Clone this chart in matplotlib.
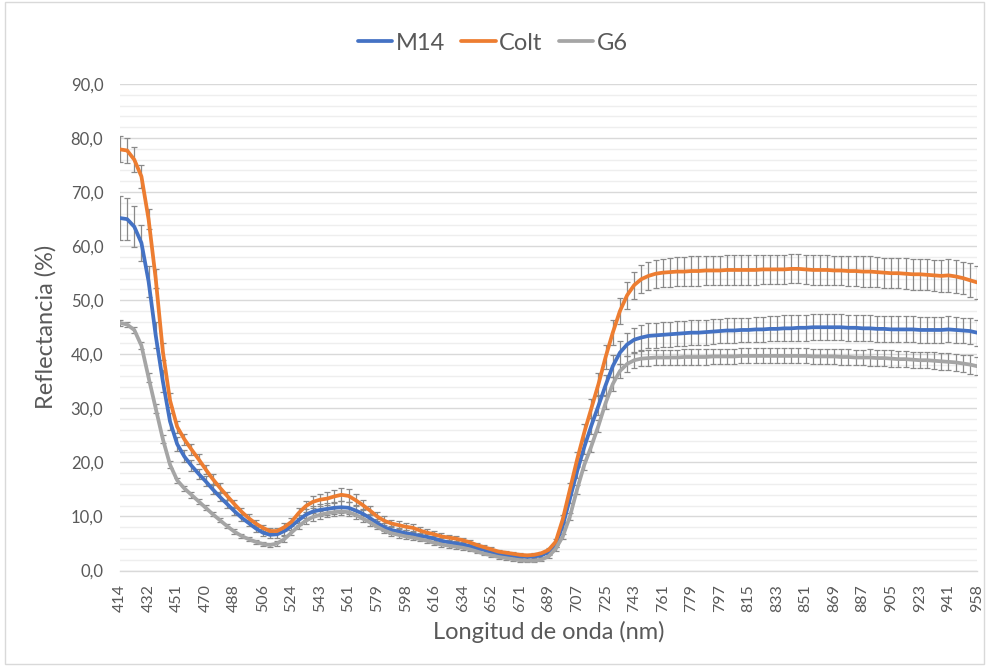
import matplotlib
matplotlib.use("Agg")
import matplotlib.pyplot as plt
from matplotlib.ticker import MultipleLocator, FuncFormatter
from matplotlib.patches import Rectangle

plt.rcParams["font.family"] = ["Lato", "DejaVu Sans"]

# wavelength labels, one every 4 samples (121 samples from 414 to 958 nm)
tick_labels = ["414", "432", "451", "470", "488", "506", "524", "543", "561", "579",
               "598", "616", "634", "652", "671", "689", "707", "725", "743", "761",
               "779", "797", "815", "833", "851", "869", "887", "905", "923", "941", "958"]
label_step = 4

series_names = ["M14", "Colt", "G6"]
series_colors = ["#4472C4", "#ED7D31", "#A5A5A5"]

m14 = [65.2, 65.0, 63.6, 60.6, 53.5, 43.5, 35.0, 27.6, 23.4, 21.1,
       19.4, 17.9, 16.5, 15.0, 13.6, 12.3, 11.0, 9.8, 8.8, 7.8,
       7.0, 6.6, 6.7, 7.3, 8.2, 9.3, 10.3, 10.9, 11.2, 11.4,
       11.6, 11.7, 11.6, 11.1, 10.5, 9.7, 8.8, 8.0, 7.5, 7.2,
       6.9, 6.7, 6.4, 6.2, 5.9, 5.5, 5.2, 5.0, 4.8, 4.5,
       4.1, 3.8, 3.4, 3.1, 2.9, 2.7, 2.6, 2.5, 2.6, 2.8,
       3.4, 4.8, 8.3, 13.3, 18.3, 22.8, 26.8, 30.5, 34.3, 37.8,
       40.3, 41.8, 42.7, 43.1, 43.4, 43.5, 43.6, 43.7, 43.8, 43.9,
       44.0, 44.0, 44.1, 44.2, 44.3, 44.4, 44.4, 44.5, 44.5, 44.6,
       44.6, 44.7, 44.7, 44.8, 44.8, 44.9, 44.9, 45.0, 45.0, 45.0,
       45.0, 45.0, 44.9, 44.9, 44.8, 44.8, 44.7, 44.7, 44.6, 44.6,
       44.6, 44.6, 44.5, 44.5, 44.5, 44.5, 44.6, 44.5, 44.4, 44.3,
       44.0]

colt = [77.9, 77.7, 76.0, 72.9, 65.0, 54.0, 40.5, 31.5, 26.6, 24.3,
        22.4, 20.6, 18.7, 16.9, 15.3, 13.8, 12.3, 10.9, 9.7, 8.7,
        7.9, 7.3, 7.3, 8.0, 9.0, 10.6, 11.9, 12.7, 13.1, 13.3,
        13.7, 14.0, 13.8, 13.0, 12.1, 11.1, 10.0, 9.2, 8.7, 8.4,
        8.1, 7.9, 7.4, 7.0, 6.7, 6.3, 6.1, 5.9, 5.6, 5.2,
        4.7, 4.3, 3.9, 3.5, 3.3, 3.1, 2.9, 2.8, 2.9, 3.2,
        3.8, 5.3, 9.5, 15.0, 20.5, 25.5, 30.0, 34.5, 39.5, 44.0,
        48.0, 50.9, 52.8, 53.9, 54.5, 54.9, 55.1, 55.2, 55.3, 55.3,
        55.4, 55.4, 55.5, 55.5, 55.5, 55.6, 55.6, 55.6, 55.6, 55.6,
        55.7, 55.7, 55.7, 55.7, 55.8, 55.8, 55.7, 55.6, 55.6, 55.6,
        55.5, 55.5, 55.4, 55.4, 55.3, 55.3, 55.2, 55.1, 55.0, 55.0,
        54.9, 54.8, 54.8, 54.7, 54.6, 54.5, 54.6, 54.4, 54.1, 53.7,
        53.3]

g6 = [45.8, 45.5, 44.5, 41.6, 35.7, 30.0, 24.3, 19.6, 16.7, 15.2,
      14.0, 12.8, 11.6, 10.4, 9.3, 8.2, 7.2, 6.4, 5.8, 5.3,
      4.9, 4.7, 5.0, 5.8, 7.0, 8.2, 9.2, 9.9, 10.3, 10.6,
      10.8, 10.9, 10.8, 10.3, 9.6, 8.9, 8.1, 7.4, 6.9, 6.6,
      6.3, 6.1, 5.8, 5.5, 5.1, 4.8, 4.6, 4.4, 4.2, 3.9,
      3.5, 3.1, 2.8, 2.5, 2.3, 2.1, 1.9, 1.8, 1.8, 2.0,
      2.6, 4.0, 6.3, 10.0, 15.0, 19.5, 23.0, 26.8, 31.0, 34.5,
      36.9, 38.2, 38.9, 39.2, 39.3, 39.4, 39.4, 39.4, 39.4, 39.5,
      39.5, 39.5, 39.5, 39.6, 39.6, 39.6, 39.6, 39.7, 39.7, 39.7,
      39.7, 39.7, 39.7, 39.7, 39.7, 39.7, 39.7, 39.6, 39.6, 39.6,
      39.6, 39.5, 39.5, 39.4, 39.4, 39.4, 39.3, 39.3, 39.2, 39.1,
      39.1, 39.0, 38.9, 38.9, 38.8, 38.7, 38.6, 38.5, 38.3, 38.1,
      37.8]

# standard deviations (error bars)
m14_sd = [4.0, 3.9, 3.8, 3.3, 2.9, 2.4, 2.0, 1.6, 1.3, 1.1,
          1.0, 0.9, 0.9, 0.8, 0.8, 0.7, 0.7, 0.7, 0.6, 0.6,
          0.6, 0.6, 0.6, 0.7, 0.8, 0.9, 1.0, 1.0, 1.1, 1.1,
          1.1, 1.1, 1.1, 1.0, 0.9, 0.8, 0.8, 0.7, 0.7, 0.7,
          0.6, 0.6, 0.6, 0.6, 0.5, 0.5, 0.5, 0.5, 0.4, 0.4,
          0.4, 0.4, 0.3, 0.3, 0.3, 0.3, 0.3, 0.3, 0.3, 0.3,
          0.4, 0.5, 0.7, 0.9, 1.1, 1.3, 1.5, 1.7, 1.9, 2.0,
          2.1, 2.2, 2.2, 2.3, 2.3, 2.3, 2.3, 2.3, 2.3, 2.3,
          2.3, 2.3, 2.3, 2.3, 2.3, 2.3, 2.3, 2.3, 2.3, 2.3,
          2.3, 2.3, 2.3, 2.4, 2.4, 2.4, 2.4, 2.4, 2.4, 2.4,
          2.4, 2.4, 2.4, 2.4, 2.4, 2.4, 2.4, 2.4, 2.4, 2.4,
          2.4, 2.4, 2.4, 2.4, 2.4, 2.4, 2.4, 2.4, 2.4, 2.4,
          2.4]

colt_sd = [2.4, 2.3, 2.3, 2.1, 1.9, 1.7, 1.5, 1.3, 1.1, 1.0,
           1.0, 0.9, 0.9, 0.9, 0.8, 0.8, 0.8, 0.7, 0.7, 0.7,
           0.6, 0.6, 0.6, 0.7, 0.8, 0.9, 1.0, 1.1, 1.1, 1.2,
           1.2, 1.2, 1.2, 1.1, 1.0, 0.9, 0.8, 0.8, 0.7, 0.7,
           0.7, 0.7, 0.6, 0.6, 0.6, 0.6, 0.5, 0.5, 0.5, 0.5,
           0.4, 0.4, 0.4, 0.3, 0.3, 0.3, 0.3, 0.3, 0.3, 0.3,
           0.4, 0.5, 0.8, 1.1, 1.4, 1.6, 1.8, 2.0, 2.2, 2.3,
           2.4, 2.5, 2.5, 2.6, 2.6, 2.6, 2.6, 2.7, 2.7, 2.7,
           2.7, 2.7, 2.7, 2.7, 2.7, 2.7, 2.7, 2.7, 2.7, 2.7,
           2.7, 2.7, 2.7, 2.7, 2.7, 2.7, 2.7, 2.7, 2.7, 2.7,
           2.7, 2.7, 2.7, 2.7, 2.8, 2.8, 2.8, 2.8, 2.8, 2.8,
           2.9, 2.9, 2.9, 2.9, 2.9, 3.0, 3.0, 3.0, 3.0, 3.1,
           3.1]

g6_sd = [0.5, 0.5, 0.6, 0.7, 0.8, 0.8, 0.7, 0.6, 0.5, 0.5,
         0.5, 0.5, 0.5, 0.4, 0.4, 0.4, 0.4, 0.4, 0.4, 0.4,
         0.4, 0.4, 0.4, 0.5, 0.5, 0.6, 0.6, 0.7, 0.7, 0.7,
         0.7, 0.7, 0.7, 0.7, 0.6, 0.6, 0.5, 0.5, 0.5, 0.5,
         0.5, 0.5, 0.4, 0.4, 0.4, 0.4, 0.4, 0.4, 0.4, 0.3,
         0.3, 0.3, 0.3, 0.3, 0.3, 0.3, 0.3, 0.3, 0.3, 0.3,
         0.3, 0.4, 0.5, 0.6, 0.8, 0.9, 1.0, 1.1, 1.2, 1.3,
         1.3, 1.4, 1.4, 1.4, 1.4, 1.4, 1.4, 1.4, 1.4, 1.4,
         1.4, 1.4, 1.4, 1.4, 1.4, 1.4, 1.4, 1.4, 1.4, 1.4,
         1.4, 1.4, 1.4, 1.4, 1.4, 1.4, 1.4, 1.4, 1.4, 1.4,
         1.4, 1.4, 1.4, 1.4, 1.4, 1.5, 1.5, 1.5, 1.5, 1.5,
         1.5, 1.5, 1.5, 1.5, 1.6, 1.6, 1.6, 1.6, 1.6, 1.7,
         1.7]

text_color = "#595959"

fig = plt.figure(figsize=(9.86, 6.66), dpi=100)
ax = fig.add_axes([120 / 986, 95.5 / 666, 857 / 986, 486.5 / 666])

x = list(range(len(m14)))
for vals, sd, name, color in zip([m14, colt, g6], [m14_sd, colt_sd, g6_sd],
                                 series_names, series_colors):
    ax.errorbar(x, vals, yerr=sd, fmt="none", ecolor="#8a8a8a",
                elinewidth=0.9, capsize=2.3, capthick=0.9, zorder=2)
    ax.plot(x, vals, color=color, lw=2.7, solid_capstyle="round",
            solid_joinstyle="round", label=name, zorder=3)

ax.set_xlim(0, len(m14) - 1)
ax.set_ylim(0, 90)
ax.set_xticks(range(0, len(m14), label_step))
ax.set_xticklabels(tick_labels, rotation=90)
ax.yaxis.set_major_locator(MultipleLocator(10))
ax.yaxis.set_minor_locator(MultipleLocator(2))
ax.yaxis.set_major_formatter(FuncFormatter(lambda v, _: f"{v:.1f}".replace(".", ",")))

ax.grid(axis="y", which="major", color="#d9d9d9", lw=1.0, zorder=0)
ax.grid(axis="y", which="minor", color="#eeeeee", lw=1.0, zorder=0)
ax.set_axisbelow(True)
for side in ["top", "right", "left"]:
    ax.spines[side].set_visible(False)
ax.spines["bottom"].set_color("#d9d9d9")
ax.spines["bottom"].set_linewidth(1.0)
ax.tick_params(axis="both", which="both", length=0, colors=text_color, labelsize=12)
ax.tick_params(axis="x", pad=10, labelsize=11.5)
ax.tick_params(axis="y", pad=12)

ax.set_ylabel("Reflectancia (%)", fontsize=17, color=text_color, labelpad=10)
ax.set_xlabel("Longitud de onda (nm)", fontsize=17, color=text_color, labelpad=6)

fig.legend(loc="center", bbox_to_anchor=(0.5, 1 - 43 / 666), ncol=3, frameon=False,
           fontsize=17, labelcolor=text_color, handlelength=1.45, handletextpad=0.15,
           columnspacing=0.7)

fig.patches.append(Rectangle((5 / 986, 2 / 666), 979 / 986, 662 / 666,
                             transform=fig.transFigure, fill=False,
                             edgecolor="#d9d9d9", lw=1.0))

fig.savefig("out.png", dpi=100)
